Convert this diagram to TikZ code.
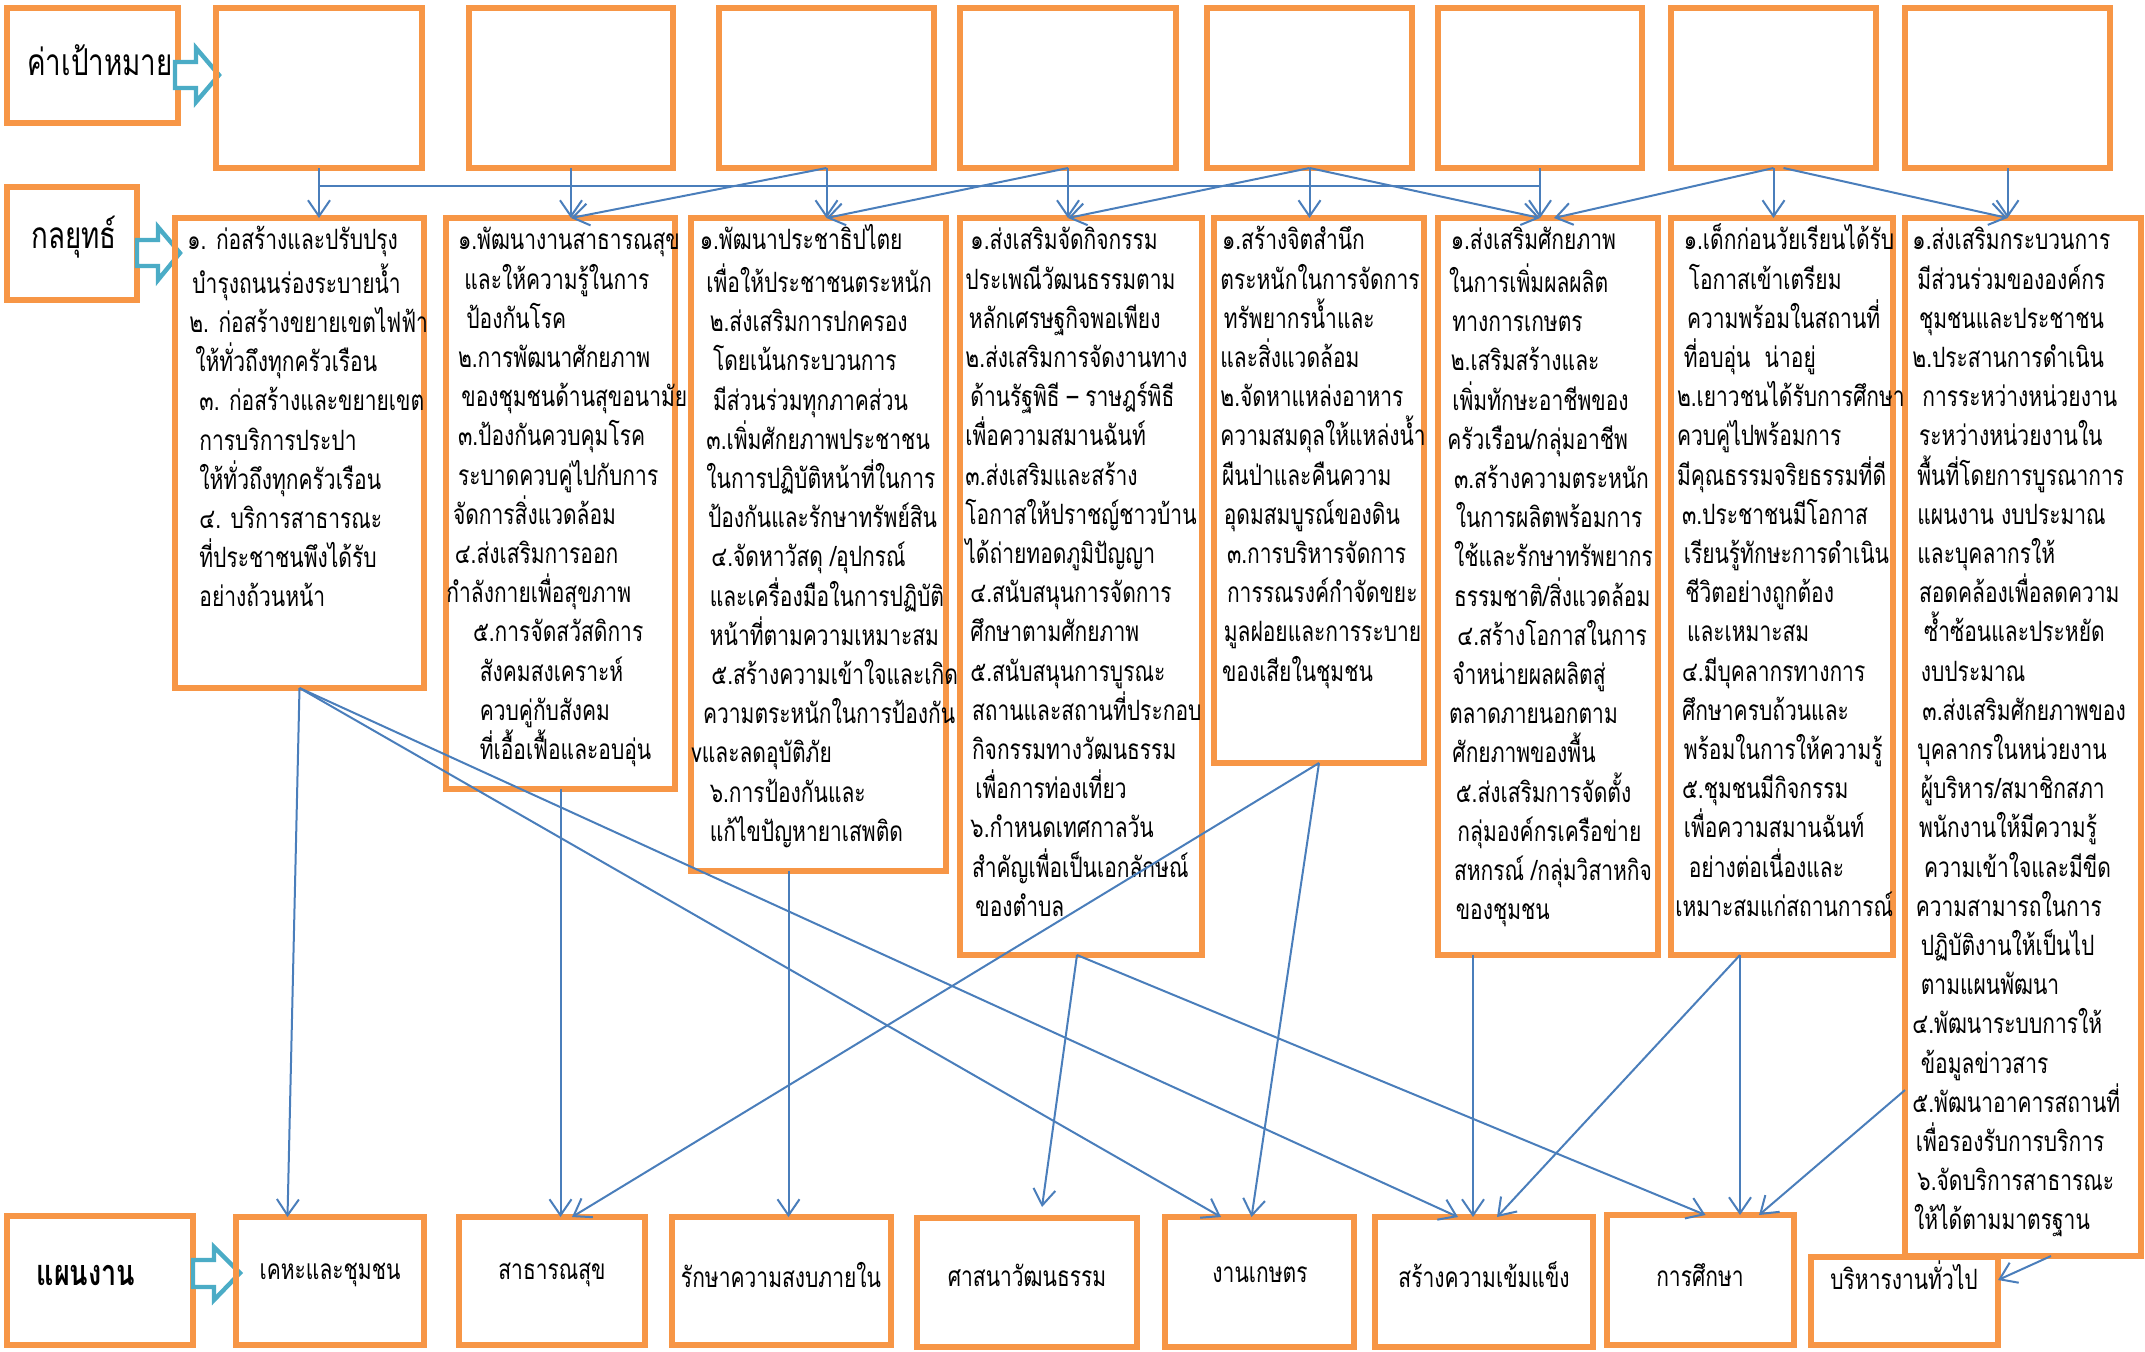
\documentclass[tikz,border=0pt]{standalone}
\usepackage{fontspec}
\setmainfont{Loma}[Script=Thai,FakeStretch=0.75]
\usetikzlibrary{arrows.meta,calc}
\definecolor{boxor}{HTML}{F79646}
\definecolor{lnblue}{HTML}{4A7EBB}
\definecolor{arcyan}{HTML}{4BACC6}
\newcommand\ind[1]{\hspace*{#1pt}}
\newcommand\obox[6]{\node[obx, minimum width={(#4-#2)*0.5pt}, minimum height={(#5-#3)*0.5pt}] (#1) at ({(#2+#4)/2},{(#3+#5)/2}) {#6};}
\tikzset{
 obx/.style={draw=boxor, line width=3pt, inner sep=0pt, outer sep=0pt},
 stxt/.style={align=left, inner sep=0pt, font=\fontsize{14}{19.6}\selectfont, anchor=north west},
 ptxt/.style={font=\fontsize{14}{17}\selectfont, inner sep=0pt},
 ltxt/.style={font=\fontsize{18.5}{22}\selectfont, inner sep=0pt},
 conn/.style={draw=lnblue, line width=1pt, -{Straight Barb[length=8pt,width=11pt]}},
 ln/.style={draw=lnblue, line width=1pt},
 barrow/.style={draw=arcyan, line width=2.2pt, fill=white, line join=miter},
}
\begin{document}
\begin{tikzpicture}[x=0.5pt,y=-0.5pt]
\useasboundingbox (0,0) rectangle (2145,1351);
% label boxes
\obox{L1}{7}{8}{178}{123}{}
\obox{L2}{7}{187}{137}{300}{}
\obox{L3}{7}{1216}{193}{1345}{}
\node[ltxt] (L1t) at (100,60) {ค่าเป้าหมาย};
\node[ltxt] (L2t) at (74,237) {กลยุทธ์};
\node[ltxt, font=\fontsize{18}{22}\selectfont\bfseries] (L3t) at (86,1275) {แผนงาน};
% block arrows
\draw[barrow] (175,62) -- (196,62) -- (196,48) -- (219,75) -- (196,102) -- (196,88) -- (175,88) -- cycle;
\draw[barrow] (137,240) -- (158,240) -- (158,227) -- (180,253) -- (158,280) -- (158,266) -- (137,266) -- cycle;
\draw[barrow] (193,1260) -- (214,1260) -- (214,1247) -- (240,1273) -- (214,1300) -- (214,1287) -- (193,1287) -- cycle;
% target boxes
\obox{T1}{216}{8}{422}{168}{}
\obox{T2}{469}{8}{673}{168}{}
\obox{T3}{719}{8}{934}{168}{}
\obox{T4}{960}{8}{1176}{168}{}
\obox{T5}{1207}{8}{1412}{168}{}
\obox{T6}{1438}{8}{1642}{168}{}
\obox{T7}{1671}{8}{1876}{168}{}
\obox{T8}{1905}{8}{2110}{168}{}
% strategy boxes
\obox{S1}{175}{218}{424}{688}{}
\obox{S2}{446}{218}{675}{789}{}
\obox{S3}{691}{218}{946}{871}{}
\obox{S4}{960}{218}{1202}{955}{}
\obox{S5}{1214}{218}{1424}{763}{}
\obox{S6}{1438}{218}{1658}{955}{}
\obox{S7}{1671}{218}{1893}{955}{}
\obox{S8}{1905}{218}{2141}{1256}{}
% plan boxes
\obox{P1}{236}{1217}{424}{1345}{}
\obox{P2}{459}{1217}{645}{1345}{}
\obox{P3}{672}{1217}{891}{1345}{}
\obox{P4}{917}{1218}{1137}{1347}{}
\obox{P5}{1165}{1217}{1354}{1347}{}
\obox{P6}{1375}{1217}{1593}{1347}{}
\obox{P7}{1607}{1215}{1794}{1345}{}
\obox{P8}{1811}{1257}{1998}{1345}{}
\node[ptxt] (P1t) at (330,1275) {เคหะและชุมชน};
\node[ptxt] (P2t) at (552,1275) {สาธารณสุข};
\node[ptxt] (P3t) at (781,1275) {รักษาความสงบภายใน};
\node[ptxt] (P4t) at (1027,1275) {ศาสนาวัฒนธรรม};
\node[ptxt] (P5t) at (1260,1275) {งานเกษตร};
\node[ptxt] (P6t) at (1484,1275) {สร้างความเข้มแข็ง};
\node[ptxt] (P7t) at (1700,1275) {การศึกษา};
\node[ptxt] (P8t) at (1904,1275) {บริหารงานทั่วไป};
% strategy texts
\node[stxt] (S1t) at ($(S1.north west)+(12,4)$) {\strut ๑. ก่อสร้างและปรับปรุง\\
\ind{2.5}บำรุงถนนร่องระบายน้ำ\\
\ind{1}๒. ก่อสร้างขยายเขตไฟฟ้า\\
\ind{4}ให้ทั่วถึงทุกครัวเรือน\\
\ind{6}๓. ก่อสร้างและขยายเขต\\
\ind{6}การบริการประปา\\
\ind{6}ให้ทั่วถึงทุกครัวเรือน\\
\ind{6}๔. บริการสาธารณะ\\
\ind{6}ที่ประชาชนพึงได้รับ\\
\ind{6}อย่างถ้วนหน้า};
\node[stxt] (S2t) at ($(S2.north west)+(0,4)$) {\strut\ind{5.8}๑.พัฒนางานสาธารณสุข\\
\ind{9}และให้ความรู้ในการ\\
\ind{10}ป้องกันโรค\\
\ind{5.8}๒.การพัฒนาศักยภาพ\\
\ind{7.5}ของชุมชนด้านสุขอนามัย\\
\ind{5.8}๓.ป้องกันควบคุมโรค\\
\ind{5.8}ระบาดควบคู่ไปกับการ\\
\ind{3.3}จัดการสิ่งแวดล้อม\\
\ind{4.2}๔.ส่งเสริมการออก\\
กำลังกายเพื่อสุขภาพ\\
\ind{13.3}๕.การจัดสวัสดิการ\\
\ind{16.7}สังคมสงเคราะห์\\
\ind{16.7}ควบคู่กับสังคม\\
\ind{16.7}ที่เอื้อเฟื้อและอบอุ่น};
\node[stxt] (S3t) at ($(S3.north west)+(0,4)$) {\strut\ind{4.2}๑.พัฒนาประชาธิปไตย\\
\ind{7.5}เพื่อให้ประชาชนตระหนัก\\
\ind{9.2}๒.ส่งเสริมการปกครอง\\
\ind{10.8}โดยเน้นกระบวนการ\\
\ind{10.8}มีส่วนร่วมทุกภาคส่วน\\
\ind{7.5}๓.เพิ่มศักยภาพประชาชน\\
\ind{7.5}ในการปฏิบัติหน้าที่ในการ\\
\ind{8.3}ป้องกันและรักษาทรัพย์สิน\\
\ind{10}๔.จัดหาวัสดุ /อุปกรณ์\\
\ind{9.2}และเครื่องมือในการปฏิบัติ\\
\ind{9.2}หน้าที่ตามความเหมาะสม\\
\ind{10}๕.สร้างความเข้าใจและเกิด\\
\ind{5.8}ความตระหนักในการป้องกัน\\
vและลดอุบัติภัย\\
\ind{9.2}๖.การป้องกันและ\\
\ind{9.2}แก้ไขปัญหายาเสพติด};
\node[stxt] (S4t) at ($(S4.north west)+(5,4)$) {\strut\ind{2.5}๑.ส่งเสริมจัดกิจกรรม\\
ประเพณีวัฒนธรรมตาม\\
\ind{1.7}หลักเศรษฐกิจพอเพียง\\
๒.ส่งเสริมการจัดงานทาง\\
\ind{2.5}ด้านรัฐพิธี – ราษฎร์พิธี\\
เพื่อความสมานฉันท์\\
๓.ส่งเสริมและสร้าง\\
โอกาสให้ปราชญ์ชาวบ้าน\\
ได้ถ่ายทอดภูมิปัญญา\\
\ind{2.5}๔.สนับสนุนการจัดการ\\
\ind{2.5}ศึกษาตามศักยภาพ\\
\ind{2.5}๕.สนับสนุนการบูรณะ\\
\ind{3.3}สถานและสถานที่ประกอบ\\
\ind{3.3}กิจกรรมทางวัฒนธรรม\\
\ind{5}เพื่อการท่องเที่ยว\\
\ind{2.5}๖.กำหนดเทศกาลวัน\\
\ind{3.3}สำคัญเพื่อเป็นเอกลักษณ์\\
\ind{5}ของตำบล};
\node[stxt] (S5t) at ($(S5.north west)+(6,4)$) {\strut\ind{0.8}๑.สร้างจิตสำนึก\\
ตระหนักในการจัดการ\\
\ind{1.7}ทรัพยากรน้ำและ\\
และสิ่งแวดล้อม\\
๒.จัดหาแหล่งอาหาร\\
ความสมดุลให้แหล่งน้ำ\\
\ind{0.8}ผืนป่าและคืนความ\\
\ind{1.7}อุดมสมบูรณ์ของดิน\\
\ind{3.3}๓.การบริหารจัดการ\\
\ind{3.3}การรณรงค์กำจัดขยะ\\
\ind{1.7}มูลฝอยและการระบาย\\
\ind{0.8}ของเสียในชุมชน};
\node[stxt] (S6t) at ($(S6.north west)+(9,4)$) {\strut\ind{1.7}๑.ส่งเสริมศักยภาพ\\
\ind{0.8}ในการเพิ่มผลผลิต\\
\ind{2.5}ทางการเกษตร\\
\ind{1.7}๒.เสริมสร้างและ\\
\ind{2.5}เพิ่มทักษะอาชีพของ\\
ครัวเรือน/กลุ่มอาชีพ\\
\ind{3.3}๓.สร้างความตระหนัก\\
\ind{4.2}ในการผลิตพร้อมการ\\
\ind{3.3}ใช้และรักษาทรัพยากร\\
\ind{3.3}ธรรมชาติ/สิ่งแวดล้อม\\
\ind{5}๔.สร้างโอกาสในการ\\
\ind{2.5}จำหน่ายผลผลิตสู่\\
\ind{0.8}ตลาดภายนอกตาม\\
\ind{2.5}ศักยภาพของพื้น\\
\ind{4.2}๕.ส่งเสริมการจัดตั้ง\\
\ind{5}กลุ่มองค์กรเครือข่าย\\
\ind{3.3}สหกรณ์ /กลุ่มวิสาหกิจ\\
\ind{4.2}ของชุมชน};
\node[stxt] (S7t) at ($(S7.north west)+(4,4)$) {\strut\ind{4.2}๑.เด็กก่อนวัยเรียนได้รับ\\
\ind{6.7}โอกาสเข้าเตรียม\\
\ind{5.8}ความพร้อมในสถานที่\\
\ind{4.2}ที่อบอุ่น\ \ น่าอยู่\\
\ind{0.8}๒.เยาวชนได้รับการศึกษา\\
\ind{0.8}ควบคู่ไปพร้อมการ\\
\ind{0.8}มีคุณธรรมจริยธรรมที่ดี\\
\ind{3.3}๓.ประชาชนมีโอกาส\\
\ind{4.2}เรียนรู้ทักษะการดำเนิน\\
\ind{5}ชีวิตอย่างถูกต้อง\\
\ind{5.8}และเหมาะสม\\
\ind{3.3}๔.มีบุคลากรทางการ\\
\ind{3.3}ศึกษาครบถ้วนและ\\
\ind{4.2}พร้อมในการให้ความรู้\\
\ind{3.3}๕.ชุมชนมีกิจกรรม\\
\ind{4.2}เพื่อความสมานฉันท์\\
\ind{6.7}อย่างต่อเนื่องและ\\
เหมาะสมแก่สถานการณ์};
\node[stxt] (S8t) at ($(S8.north west)+(7,4)$) {\strut ๑.ส่งเสริมกระบวนการ\\
\ind{2.5}มีส่วนร่วมขององค์กร\\
\ind{3.3}ชุมชนและประชาชน\\
๒.ประสานการดำเนิน\\
\ind{5}การระหว่างหน่วยงาน\\
\ind{3.3}ระหว่างหน่วยงานใน\\
\ind{2.5}พื้นที่โดยการบูรณาการ\\
\ind{2.5}แผนงาน งบประมาณ\\
\ind{2.5}และบุคลากรให้\\
\ind{3.3}สอดคล้องเพื่อลดความ\\
\ind{5.8}ซ้ำซ้อนและประหยัด\\
\ind{4.2}งบประมาณ\\
\ind{5}๓.ส่งเสริมศักยภาพของ\\
\ind{2.5}บุคลากรในหน่วยงาน\\
\ind{4.2}ผู้บริหาร/สมาชิกสภา\\
\ind{3.3}พนักงานให้มีความรู้\\
\ind{5.8}ความเข้าใจและมีขีด\\
\ind{1.7}ความสามารถในการ\\
\ind{4.2}ปฏิบัติงานให้เป็นไป\\
\ind{4.2}ตามแผนพัฒนา\\
๔.พัฒนาระบบการให้\\
\ind{4.2}ข้อมูลข่าวสาร\\
๕.พัฒนาอาคารสถานที่\\
\ind{1.7}เพื่อรองรับการบริการ\\
\ind{2.5}๖.จัดบริการสาธารณะ\\
\ind{0.8}ให้ได้ตามมาตรฐาน};
% top connectors
\coordinate (hy) at (0,186);
\draw[ln] (T1.south |- hy) -- (T6.south |- hy);
\foreach \i in {1,...,8} {\draw[conn] (T\i.south) -- (T\i.south |- S\i.north);}
\draw[conn] (T3.south) -- (T2.south |- S2.north);
\draw[conn] (T4.south) -- (T3.south |- S3.north);
\draw[conn] (T5.south) -- (T4.south |- S4.north);
\draw[conn] (T5.south) -- (T6.south |- S6.north);
\draw[conn] (T7.south) -- ($(T6.south |- S6.north)+(14,0)$);
\draw[conn] ($(T7.south)+(10,0)$) -- (T8.south |- S8.north);
% bottom connectors
\draw[conn] (S1.south) -- ($(S1.south |- P1.north)+(-12,0)$);
\draw[conn] (S1.south) -- ($(P5.north west)+(56,0)$);
\draw[conn] (S1.south) -- ($(P6.north west)+(83,0)$);
\draw[conn] (S2.south) -- (S2.south |- P2.north);
\draw[conn] (S5.south) -- ($(P2.north)+(20,0)$);
\draw[conn] (S5.south) -- ($(P5.north)+(-8,0)$);
\draw[conn] ($(S3.south)+(-30,0)$) -- ($(S3.south |- P3.north)+(-30,0)$);
\draw[conn] ($(S4.south)+(-4,0)$) -- ($(P4.north)+(15,-11)$);
\draw[conn] ($(S4.south)+(-4,0)$) -- ($(P7.north)+(5,0)$);
\draw[conn] ($(S6.south west)+(35,0)$) -- ($(S6.south west |- P6.north)+(35,0)$);
\coordinate (s7b) at ($(S7.south)+(-42,0)$);
\draw[conn] (s7b) -- ($(P6.north west)+(122,0)$);
\draw[conn] (s7b) -- (s7b |- P7.north);
\draw[conn] ($(S8.south west)+(0,-166)$) -- ($(P7.north west)+(152,0)$);
\draw[conn] ($(S8.south)+(28,0)$) -- ($(P8.east)+(0,-21)$);
\end{tikzpicture}
\end{document}
